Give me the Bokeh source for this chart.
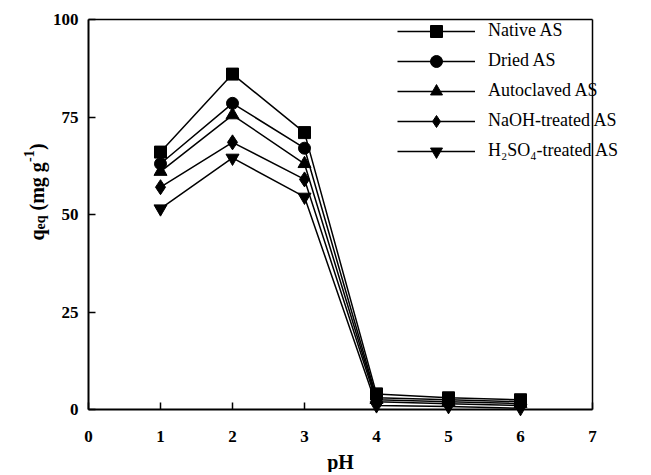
import math
from bokeh.plotting import figure
from bokeh.models import Range1d, FixedTicker, Label, LinearAxis
from bokeh.embed import file_html
from bokeh.resources import INLINE

# ---- data ----
ph = [1, 2, 3, 4, 5, 6]
native_as = [66.0, 86.0, 71.0, 4.0, 3.0, 2.5]
dried_as = [63.0, 78.5, 67.0, 3.0, 2.5, 2.0]
autoclaved_as = [61.0, 75.5, 63.0, 2.5, 2.0, 1.5]
naoh_as = [57.0, 68.5, 59.0, 2.0, 1.5, 1.0]
h2so4_as = [51.5, 64.5, 54.5, 1.0, 0.8, 0.3]
series_names = ["Native AS", "Dried AS", "Autoclaved AS", "NaOH-treated AS", "H\u2082SO\u2084-treated AS"]
x_ticks = [0, 1, 2, 3, 4, 5, 6, 7]
y_ticks = [0, 25, 50, 75, 100]

# ---- layout (pixels on the canvas) ----
W, H = 648, 472
X_MIN, X_MAX, Y_MIN, Y_MAX = 0, 7, 0, 100
BOX_L, BOX_R, BOX_T, BOX_B = 88, 592, 19, 409
PX_X = (BOX_R - BOX_L) / (X_MAX - X_MIN)
PX_Y = (BOX_B - BOX_T) / (Y_MAX - Y_MIN)
FONT = "Liberation Serif"

def dx(px):
    return px / PX_X

def dy(px):
    return px / PX_Y

x_range = Range1d(X_MIN - dx(BOX_L), X_MAX + dx(W - BOX_R))
y_range = Range1d(Y_MIN - dy(H - BOX_B), Y_MAX + dy(BOX_T))

p = figure(width=W, height=H, output_backend="svg", toolbar_location=None,
           x_range=x_range, y_range=y_range,
           x_axis_location=None, y_axis_location=None, min_border=0)
p.xgrid.visible = False
p.ygrid.visible = False
p.outline_line_color = None
p.background_fill_color = "white"
p.border_fill_color = "white"

def style_axis(ax, width):
    ax.axis_line_width = width
    ax.axis_line_color = "black"
    ax.major_tick_in = 7
    ax.major_tick_out = 0
    ax.major_tick_line_width = 1.5
    ax.major_tick_line_color = "black"
    ax.minor_tick_line_color = None
    ax.major_label_text_font = FONT
    ax.major_label_text_font_style = "bold"
    ax.major_label_text_font_size = "17px"
    ax.major_label_text_color = "black"

left_ax = LinearAxis(fixed_location=X_MIN, bounds=(Y_MIN, Y_MAX), ticker=FixedTicker(ticks=y_ticks))
style_axis(left_ax, 2)
left_ax.major_label_standoff = 10
p.add_layout(left_ax, "left")

bottom_ax = LinearAxis(fixed_location=Y_MIN, bounds=(X_MIN, X_MAX), ticker=FixedTicker(ticks=x_ticks))
style_axis(bottom_ax, 2)
bottom_ax.major_label_standoff = 21
p.add_layout(bottom_ax, "below")

right_ax = LinearAxis(fixed_location=X_MAX, bounds=(Y_MIN, Y_MAX), ticker=FixedTicker(ticks=[]))
style_axis(right_ax, 1.5)
p.add_layout(right_ax, "right")

top_ax = LinearAxis(fixed_location=Y_MAX, bounds=(X_MIN, X_MAX), ticker=FixedTicker(ticks=[]))
style_axis(top_ax, 1.5)
p.add_layout(top_ax, "above")

markers = ["square", "circle", "triangle", "diamond", "inverted_triangle"]
sizes = [12, 12, 13, 15, 13]
all_series = [native_as, dried_as, autoclaved_as, naoh_as, h2so4_as]
for ys, name, mk, sz in zip(all_series, series_names, markers, sizes):
    p.line(ph, ys, line_color="black", line_width=1.5, legend_label=name)
    p.scatter(ph, ys, marker=mk, size=sz, fill_color="black", line_color="black",
              line_width=1, legend_label=name)

lg = p.legend[0]
lg.location = (397, H - 15.7 - 150)
lg.glyph_width = 78
lg.glyph_height = 30
lg.label_height = 30
lg.label_standoff = 13
lg.spacing = 0
lg.padding = 0
lg.margin = 0
lg.label_text_font = FONT
lg.label_text_font_size = "18px"
lg.label_text_color = "black"
lg.border_line_alpha = 0
lg.background_fill_alpha = 0

# ---- y axis label: q_eq (mg g^-1), composed from pieces ----
rot = math.pi / 2
pieces = [
    # text, font size, baseline offset from the y axis (px), start offset above y=0 (px)
    ("q", "20px", -52, 169),
    ("eq", "14px", -48, 180),
    ("(mg g", "20px", -52, 199),
    ("-1", "14px", -60, 247.5),
    (")", "20px", -52, 259.5),
]
for txt, fs, bx, by in pieces:
    p.add_layout(Label(x=X_MIN + dx(bx), y=Y_MIN + dy(by), text=txt, angle=rot,
                       text_font=FONT, text_font_style="bold", text_font_size=fs,
                       text_align="left", text_baseline="alphabetic", text_color="black"))

# ---- x axis label ----
p.add_layout(Label(x=(X_MIN + X_MAX) / 2, y=Y_MIN - dy(52), text="pH", text_font=FONT,
                   text_font_style="bold", text_font_size="20px",
                   text_align="center", text_baseline="alphabetic", text_color="black"))

open("out.html", "w").write(file_html(p, INLINE))
